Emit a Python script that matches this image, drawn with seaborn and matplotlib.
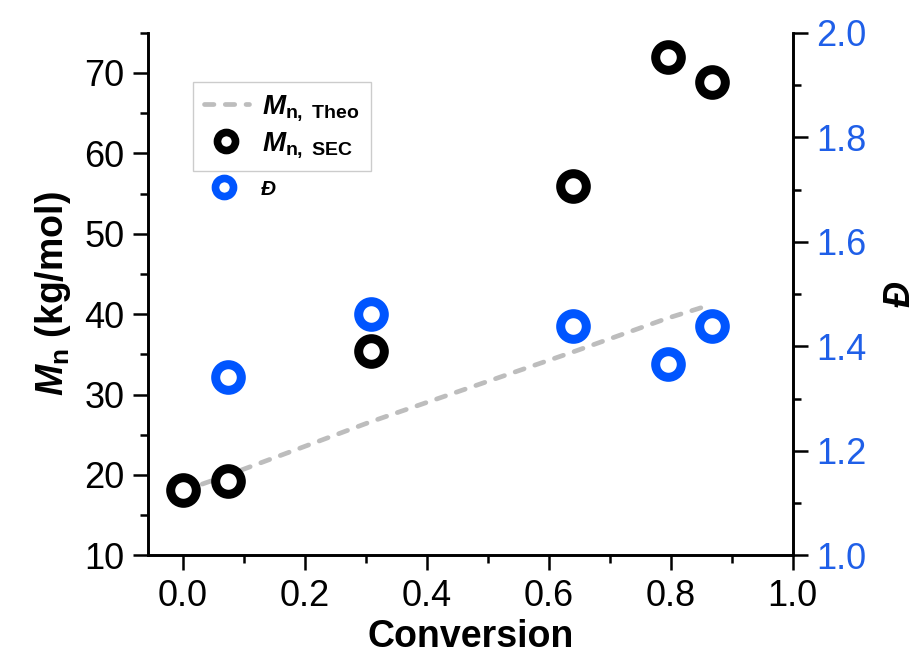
import matplotlib
matplotlib.use("Agg")
import matplotlib.pyplot as plt
from matplotlib.lines import Line2D
import pandas as pd
import seaborn as sns

# values
conversion = [0.0, 0.075, 0.308, 0.64, 0.795, 0.868]
mn_sec = [18.1, 19.3, 35.4, 56.0, 72.0, 68.9]
dispersity_conv = [0.075, 0.308, 0.64, 0.795, 0.868]
dispersity = [1.341, 1.462, 1.439, 1.366, 1.439]
theo_conv = [0.0, 0.075, 0.308, 0.64, 0.795, 0.85]
mn_theo = [18.0, 20.0, 26.6, 35.3, 39.5, 40.8]

sec_df = pd.DataFrame({"Conversion": conversion, "Mn": mn_sec})
theo_df = pd.DataFrame({"Conversion": theo_conv, "Mn": mn_theo})
d_df = pd.DataFrame({"Conversion": dispersity_conv, "D": dispersity})

sns.set_style("ticks")
plt.rcParams["font.family"] = ["Liberation Sans", "DejaVu Sans"]
plt.rcParams["mathtext.fontset"] = "custom"
plt.rcParams["mathtext.rm"] = "Liberation Sans:bold"
plt.rcParams["mathtext.bf"] = "Liberation Sans:bold"
plt.rcParams["mathtext.it"] = "Liberation Sans:italic:bold"
for key in ["text.color", "axes.labelcolor", "xtick.color", "ytick.color", "axes.edgecolor"]:
    plt.rcParams[key] = "black"

blue = "#0055ff"
tick_blue = "#1f5fe8"
grey = "#bdbdbd"

fig = plt.figure(figsize=(9.24, 6.69), dpi=100)
ax = fig.add_axes([0.160, 0.170, 0.698, 0.781])
ax2 = ax.twinx()

sns.lineplot(data=theo_df, x="Conversion", y="Mn", ax=ax, color=grey,
             linewidth=3.4, linestyle=(0, (2.0, 2.4)), dash_capstyle="round", zorder=1)
sns.scatterplot(data=sec_df, x="Conversion", y="Mn", ax=ax, s=340, color="white",
                edgecolor="black", linewidth=6.5, zorder=3)
sns.scatterplot(data=d_df, x="Conversion", y="D", ax=ax2, s=340, color="white",
                edgecolor=blue, linewidth=6.5, zorder=3)

ax.set_xlim(-0.057, 1.0)
ax.set_ylim(10, 75)
ax2.set_ylim(1.0, 2.0)
ax.set_xticks([0.0, 0.2, 0.4, 0.6, 0.8, 1.0])
ax.set_xticks([0.1, 0.3, 0.5, 0.7, 0.9], minor=True)
ax.set_yticks([10, 20, 30, 40, 50, 60, 70])
ax.set_yticks([15, 25, 35, 45, 55, 65, 75], minor=True)
ax2.set_yticks([1.0, 1.2, 1.4, 1.6, 1.8, 2.0])
ax2.set_yticks([1.1, 1.3, 1.5, 1.7, 1.9], minor=True)
ax.set_xticklabels(["0.0", "0.2", "0.4", "0.6", "0.8", "1.0"])
ax2.set_yticklabels(["1.0", "1.2", "1.4", "1.6", "1.8", "2.0"])

for a in (ax, ax2):
    a.tick_params(which="major", direction="out", length=11, width=1.8, labelsize=26, pad=6)
    a.tick_params(which="minor", direction="out", length=6, width=1.8)
    for sp in a.spines.values():
        sp.set_linewidth(1.9)
    a.spines["top"].set_visible(False)
ax2.tick_params(axis="y", labelcolor=tick_blue)

ax.set_xlabel("Conversion", fontsize=27, fontweight="bold", labelpad=4)
ax.set_ylabel(r"$M_\mathbf{n}$ (kg/mol)", fontsize=27, fontweight="bold", labelpad=8)
ax2.set_ylabel(r"$Đ$", fontsize=26, labelpad=12)

h_theo = Line2D([], [], color=grey, linewidth=3.4, linestyle=(0, (2.0, 2.4)),
                dash_capstyle="round")
h_sec = Line2D([], [], color="white", marker="o", markersize=13,
               markeredgecolor="black", markeredgewidth=5.5, linestyle="none")
h_d = Line2D([], [], color="white", marker="o", markersize=13,
             markeredgecolor=blue, markeredgewidth=5.5, linestyle="none")

leg1 = ax2.legend([h_theo, h_sec], [r"$M_\mathbf{n,\ Theo}$", r"$M_\mathbf{n,\ SEC}$"],
                  loc="upper left", bbox_to_anchor=(0.07, 0.906), fontsize=20,
                  frameon=True, fancybox=False, edgecolor="#cccccc", framealpha=1,
                  handlelength=1.6, borderpad=0.4, labelspacing=0.25,
                  handletextpad=0.5, borderaxespad=0)
leg1.get_frame().set_linewidth(1.0)
ax2.add_artist(leg1)
ax2.legend([h_d], [r"$Đ$"], loc="upper left", bbox_to_anchor=(0.07, 0.735),
           fontsize=15, frameon=False, handlelength=2.2, borderpad=0.4,
           handletextpad=0.6, borderaxespad=0)

fig.savefig("out.png", dpi=100)
